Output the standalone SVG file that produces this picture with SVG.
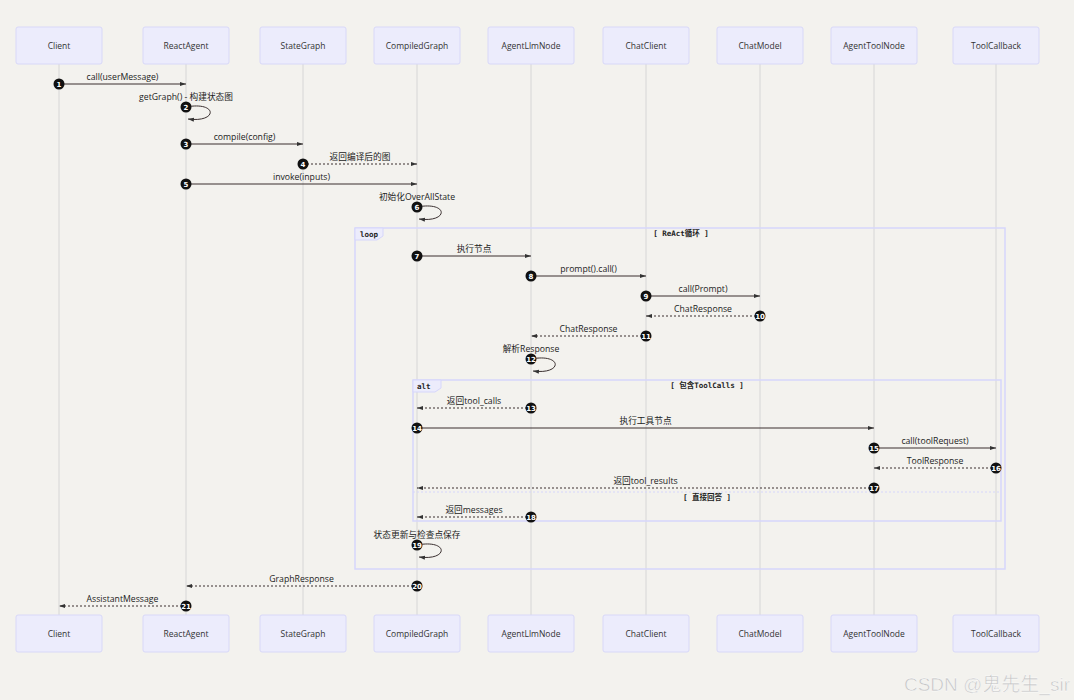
<svg xmlns="http://www.w3.org/2000/svg" width="1074" height="700" viewBox="0 0 1074 700">
<defs>
<marker id="ah" viewBox="0 0 10 10" refX="10" refY="5" markerWidth="6" markerHeight="6" markerUnits="userSpaceOnUse" orient="auto"><path d="M0,1.5 L10,5 L0,8.5 z" fill="#333"/></marker>
<style>
.actor rect{fill:#ececfc;stroke:#d8d8f8;stroke-width:1}
.actor text{font-family:"Open Sans","Noto Sans",sans-serif;font-size:8.5px;fill:#333;text-anchor:middle}
.life{stroke:#d6d6d6;stroke-width:1}
.msg{stroke:#3a2f2f;stroke-width:1;fill:none;marker-end:url(#ah)}
.dash{stroke-dasharray:2,2}
.lbl{font-family:"Open Sans","Noto Sans","Noto Sans CJK SC",sans-serif;font-size:8.7px;fill:#222;text-anchor:middle}
.num circle{fill:#111}
.num text{font-family:"DejaVu Sans",sans-serif;font-size:7px;font-weight:bold;fill:#fff;text-anchor:middle}
.frame{fill:none;stroke:#d6d6fb;stroke-width:1.5}
.tag{fill:#ececfc;stroke:#d6d6fb;stroke-width:1}
.ftxt{font-family:"DejaVu Sans Mono","Noto Sans CJK SC",monospace;font-size:7.5px;font-weight:bold;fill:#222}
</style>
</defs>
<rect width="1074" height="700" fill="#f3f2ee"/>
<g id="lifelines">
<line class="life" x1="59" y1="64" x2="59" y2="615"/>
<line class="life" x1="186" y1="64" x2="186" y2="615"/>
<line class="life" x1="303" y1="64" x2="303" y2="615"/>
<line class="life" x1="417" y1="64" x2="417" y2="615"/>
<line class="life" x1="531" y1="64" x2="531" y2="615"/>
<line class="life" x1="646" y1="64" x2="646" y2="615"/>
<line class="life" x1="760" y1="64" x2="760" y2="615"/>
<line class="life" x1="874" y1="64" x2="874" y2="615"/>
<line class="life" x1="996" y1="64" x2="996" y2="615"/>
</g>
<g id="frames">
<rect class="frame" x="355" y="228" width="650" height="341"/>
<path class="tag" d="M355,228 H383 V236 L377,240 H355 Z"/>
<text class="ftxt" x="360" y="237">loop</text>
<text class="ftxt" x="681" y="236" text-anchor="middle">[ ReAct循环 ]</text>
<rect class="frame" x="413" y="380" width="588" height="141"/>
<path class="tag" d="M413,380 H441 V388 L435,392 H413 Z"/>
<text class="ftxt" x="417" y="389">alt</text>
<text class="ftxt" x="707" y="388" text-anchor="middle">[ 包含ToolCalls ]</text>
<line x1="413" y1="492" x2="1001" y2="492" stroke="#d6d6fb" stroke-width="1" stroke-dasharray="2,2"/>
<text class="ftxt" x="707" y="500" text-anchor="middle">[ 直接回答 ]</text>
</g>
<g id="actor-Client-top" class="actor"><rect x="16" y="27" width="86" height="37" rx="2"/><text x="59" y="49">Client</text></g>
<g id="actor-ReactAgent-top" class="actor"><rect x="143" y="27" width="86" height="37" rx="2"/><text x="186" y="49">ReactAgent</text></g>
<g id="actor-StateGraph-top" class="actor"><rect x="260" y="27" width="86" height="37" rx="2"/><text x="303" y="49">StateGraph</text></g>
<g id="actor-CompiledGraph-top" class="actor"><rect x="374" y="27" width="86" height="37" rx="2"/><text x="417" y="49">CompiledGraph</text></g>
<g id="actor-AgentLlmNode-top" class="actor"><rect x="488" y="27" width="86" height="37" rx="2"/><text x="531" y="49">AgentLlmNode</text></g>
<g id="actor-ChatClient-top" class="actor"><rect x="603" y="27" width="86" height="37" rx="2"/><text x="646" y="49">ChatClient</text></g>
<g id="actor-ChatModel-top" class="actor"><rect x="717" y="27" width="86" height="37" rx="2"/><text x="760" y="49">ChatModel</text></g>
<g id="actor-AgentToolNode-top" class="actor"><rect x="831" y="27" width="86" height="37" rx="2"/><text x="874" y="49">AgentToolNode</text></g>
<g id="actor-ToolCallback-top" class="actor"><rect x="953" y="27" width="86" height="37" rx="2"/><text x="996" y="49">ToolCallback</text></g>
<g id="actor-Client-bottom" class="actor"><rect x="16" y="615" width="86" height="37" rx="2"/><text x="59" y="637">Client</text></g>
<g id="actor-ReactAgent-bottom" class="actor"><rect x="143" y="615" width="86" height="37" rx="2"/><text x="186" y="637">ReactAgent</text></g>
<g id="actor-StateGraph-bottom" class="actor"><rect x="260" y="615" width="86" height="37" rx="2"/><text x="303" y="637">StateGraph</text></g>
<g id="actor-CompiledGraph-bottom" class="actor"><rect x="374" y="615" width="86" height="37" rx="2"/><text x="417" y="637">CompiledGraph</text></g>
<g id="actor-AgentLlmNode-bottom" class="actor"><rect x="488" y="615" width="86" height="37" rx="2"/><text x="531" y="637">AgentLlmNode</text></g>
<g id="actor-ChatClient-bottom" class="actor"><rect x="603" y="615" width="86" height="37" rx="2"/><text x="646" y="637">ChatClient</text></g>
<g id="actor-ChatModel-bottom" class="actor"><rect x="717" y="615" width="86" height="37" rx="2"/><text x="760" y="637">ChatModel</text></g>
<g id="actor-AgentToolNode-bottom" class="actor"><rect x="831" y="615" width="86" height="37" rx="2"/><text x="874" y="637">AgentToolNode</text></g>
<g id="actor-ToolCallback-bottom" class="actor"><rect x="953" y="615" width="86" height="37" rx="2"/><text x="996" y="637">ToolCallback</text></g>
<g id="connectors">
<line class="msg" x1="59" y1="84" x2="186" y2="84"/>
<path class="msg" d="M186,107 C218,101 218,123 188,119"/>
<line class="msg" x1="186" y1="144" x2="303" y2="144"/>
<line class="msg dash" x1="303" y1="164" x2="417" y2="164"/>
<line class="msg" x1="186" y1="184" x2="417" y2="184"/>
<path class="msg" d="M417,207 C449,201 449,223 419,219"/>
<line class="msg" x1="417" y1="256" x2="531" y2="256"/>
<line class="msg" x1="531" y1="276" x2="646" y2="276"/>
<line class="msg" x1="646" y1="296" x2="760" y2="296"/>
<line class="msg dash" x1="760" y1="316" x2="646" y2="316"/>
<line class="msg dash" x1="646" y1="336" x2="531" y2="336"/>
<path class="msg" d="M531,359 C563,353 563,375 533,371"/>
<line class="msg dash" x1="531" y1="408" x2="417" y2="408"/>
<line class="msg" x1="417" y1="428" x2="874" y2="428"/>
<line class="msg" x1="874" y1="448" x2="996" y2="448"/>
<line class="msg dash" x1="996" y1="468" x2="874" y2="468"/>
<line class="msg dash" x1="874" y1="488" x2="417" y2="488"/>
<line class="msg dash" x1="531" y1="517" x2="417" y2="517"/>
<path class="msg" d="M417,545 C449,539 449,561 419,557"/>
<line class="msg dash" x1="417" y1="586" x2="186" y2="586"/>
<line class="msg dash" x1="186" y1="606" x2="59" y2="606"/>
</g>
<g id="labels">
<text class="lbl" x="122.5" y="80">call(userMessage)</text>
<text class="lbl" x="186" y="100">getGraph() - 构建状态图</text>
<text class="lbl" x="244.5" y="140">compile(config)</text>
<text class="lbl" x="360" y="160">返回编译后的图</text>
<text class="lbl" x="301.5" y="180">invoke(inputs)</text>
<text class="lbl" x="417" y="200">初始化OverAllState</text>
<text class="lbl" x="474" y="252">执行节点</text>
<text class="lbl" x="588.5" y="272">prompt().call()</text>
<text class="lbl" x="703" y="292">call(Prompt)</text>
<text class="lbl" x="703" y="312">ChatResponse</text>
<text class="lbl" x="588.5" y="332">ChatResponse</text>
<text class="lbl" x="531" y="352">解析Response</text>
<text class="lbl" x="474" y="404">返回tool_calls</text>
<text class="lbl" x="645.5" y="424">执行工具节点</text>
<text class="lbl" x="935" y="444">call(toolRequest)</text>
<text class="lbl" x="935" y="464">ToolResponse</text>
<text class="lbl" x="645.5" y="484">返回tool_results</text>
<text class="lbl" x="474" y="513">返回messages</text>
<text class="lbl" x="417" y="538">状态更新与检查点保存</text>
<text class="lbl" x="301.5" y="582">GraphResponse</text>
<text class="lbl" x="122.5" y="602">AssistantMessage</text>
</g>
<g id="numbers" class="num">
<circle cx="59" cy="84" r="5.5"/><text x="59" y="86.5">1</text>
<circle cx="186" cy="107" r="5.5"/><text x="186" y="109.5">2</text>
<circle cx="186" cy="144" r="5.5"/><text x="186" y="146.5">3</text>
<circle cx="303" cy="164" r="5.5"/><text x="303" y="166.5">4</text>
<circle cx="186" cy="184" r="5.5"/><text x="186" y="186.5">5</text>
<circle cx="417" cy="207" r="5.5"/><text x="417" y="209.5">6</text>
<circle cx="417" cy="256" r="5.5"/><text x="417" y="258.5">7</text>
<circle cx="531" cy="276" r="5.5"/><text x="531" y="278.5">8</text>
<circle cx="646" cy="296" r="5.5"/><text x="646" y="298.5">9</text>
<circle cx="760" cy="316" r="5.5"/><text x="760" y="318.5">10</text>
<circle cx="646" cy="336" r="5.5"/><text x="646" y="338.5">11</text>
<circle cx="531" cy="359" r="5.5"/><text x="531" y="361.5">12</text>
<circle cx="531" cy="408" r="5.5"/><text x="531" y="410.5">13</text>
<circle cx="417" cy="428" r="5.5"/><text x="417" y="430.5">14</text>
<circle cx="874" cy="448" r="5.5"/><text x="874" y="450.5">15</text>
<circle cx="996" cy="468" r="5.5"/><text x="996" y="470.5">16</text>
<circle cx="874" cy="488" r="5.5"/><text x="874" y="490.5">17</text>
<circle cx="531" cy="517" r="5.5"/><text x="531" y="519.5">18</text>
<circle cx="417" cy="545" r="5.5"/><text x="417" y="547.5">19</text>
<circle cx="417" cy="586" r="5.5"/><text x="417" y="588.5">20</text>
<circle cx="186" cy="606" r="5.5"/><text x="186" y="608.5">21</text>
</g>
<text x="1070" y="691" text-anchor="end" font-family="'Liberation Sans','Noto Sans CJK SC',sans-serif" font-size="19" fill="#c6c6c6" stroke="#ffffff" stroke-width="0.4">CSDN @鬼先生_sir</text>
</svg>
